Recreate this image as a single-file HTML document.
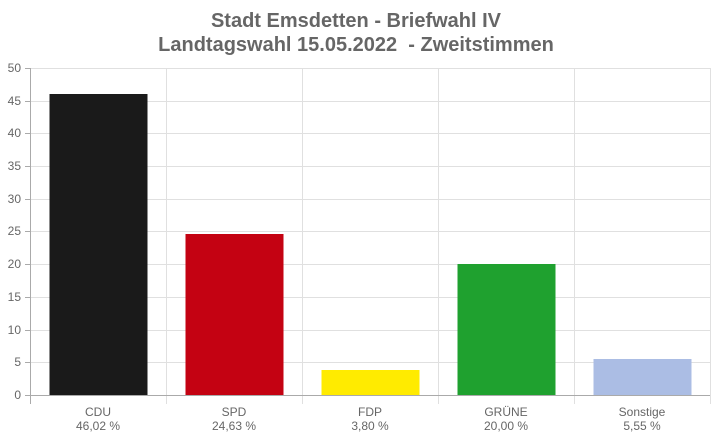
<!DOCTYPE html>
<html><head><meta charset="utf-8"><style>body{margin:0;background:#fff}</style></head><body>
<svg width="712" height="442" xmlns="http://www.w3.org/2000/svg" font-family="Liberation Sans, sans-serif">
<rect width="712" height="442" fill="#fff"/>
<text x="356" y="27" text-anchor="middle" font-size="20" font-weight="bold" fill="#666">Stadt Emsdetten - Briefwahl IV</text>
<text x="356" y="51" text-anchor="middle" font-size="20" font-weight="bold" fill="#666">Landtagswahl 15.05.2022&#160; - Zweitstimmen</text>
<g stroke="#e0e0e0" stroke-width="1">
<line x1="30" x2="710" y1="68.5" y2="68.5"/><line x1="30" x2="710" y1="101.5" y2="101.5"/><line x1="30" x2="710" y1="133.5" y2="133.5"/><line x1="30" x2="710" y1="166.5" y2="166.5"/><line x1="30" x2="710" y1="199.5" y2="199.5"/><line x1="30" x2="710" y1="231.5" y2="231.5"/><line x1="30" x2="710" y1="264.5" y2="264.5"/><line x1="30" x2="710" y1="297.5" y2="297.5"/><line x1="30" x2="710" y1="330.5" y2="330.5"/><line x1="30" x2="710" y1="362.5" y2="362.5"/>
<line x1="166.5" x2="166.5" y1="68" y2="404"/><line x1="302.5" x2="302.5" y1="68" y2="404"/><line x1="438.5" x2="438.5" y1="68" y2="404"/><line x1="574.5" x2="574.5" y1="68" y2="404"/><line x1="710.5" x2="710.5" y1="68" y2="404"/>
</g>
<g stroke="#aaa"><line x1="30.5" x2="30.5" y1="68" y2="404"/><line x1="25" x2="710" y1="395.5" y2="395.5"/>
<line x1="25" x2="30" y1="68.5" y2="68.5"/><line x1="25" x2="30" y1="101.5" y2="101.5"/><line x1="25" x2="30" y1="133.5" y2="133.5"/><line x1="25" x2="30" y1="166.5" y2="166.5"/><line x1="25" x2="30" y1="199.5" y2="199.5"/><line x1="25" x2="30" y1="231.5" y2="231.5"/><line x1="25" x2="30" y1="264.5" y2="264.5"/><line x1="25" x2="30" y1="297.5" y2="297.5"/><line x1="25" x2="30" y1="330.5" y2="330.5"/><line x1="25" x2="30" y1="362.5" y2="362.5"/></g>
<g font-size="12" fill="#666" text-anchor="end">
<text x="21" y="72">50</text><text x="21" y="105">45</text><text x="21" y="137">40</text><text x="21" y="170">35</text><text x="21" y="203">30</text><text x="21" y="235">25</text><text x="21" y="268">20</text><text x="21" y="301">15</text><text x="21" y="334">10</text><text x="21" y="366">5</text><text x="21" y="399">0</text></g>
<rect x="49.5" y="94" width="98" height="301" fill="#1a1a1a"/>
<rect x="185.5" y="234" width="98" height="161" fill="#c40212"/>
<rect x="321.5" y="370" width="98" height="25" fill="#ffeb00"/>
<rect x="457.5" y="264" width="98" height="131" fill="#1fa12f"/>
<rect x="593.5" y="359" width="98" height="36" fill="#abbde4"/>
<g font-size="12" fill="#666" text-anchor="middle">
<text x="98" y="416">CDU</text><text x="98" y="430">46,02 %</text>
<text x="234" y="416">SPD</text><text x="234" y="430">24,63 %</text>
<text x="370" y="416">FDP</text><text x="370" y="430">3,80 %</text>
<text x="506" y="416">GRÜNE</text><text x="506" y="430">20,00 %</text>
<text x="642" y="416">Sonstige</text><text x="642" y="430">5,55 %</text></g>
</svg>
</body></html>
